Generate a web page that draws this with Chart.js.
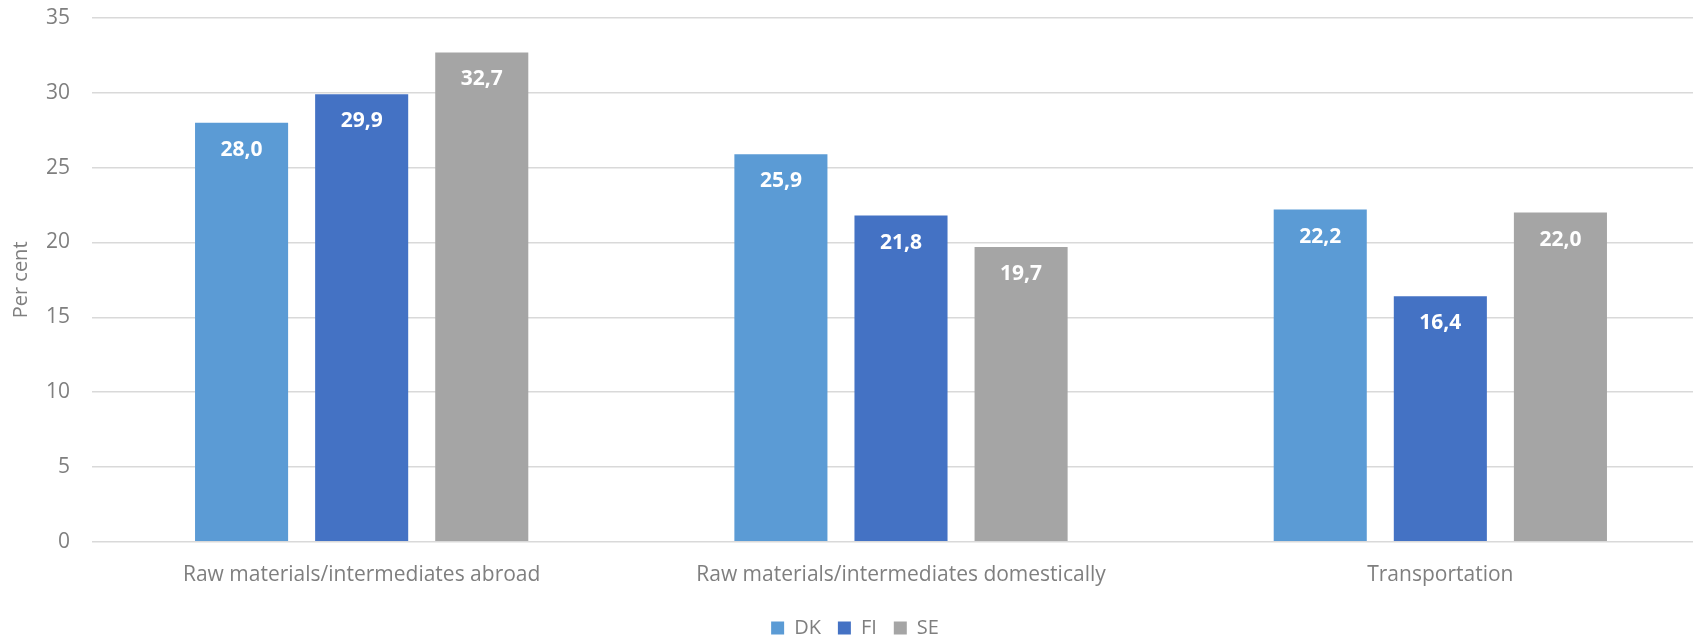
<html>
<script src="https://cdn.jsdelivr.net/npm/chart.js@4.4.0/dist/chart.umd.min.js"></script>

<style>
  body {
    margin: 0;
    overflow: hidden;
    background: white;
  }
  #costChart {
    position: absolute;
    left: 0;
    top: 0;
  }
</style>

<body>
  <canvas id="costChart" width="1712" height="639"></canvas>
</body>

<script>
  // categories and the three country series (per cent)
  var categories = [
    "Raw materials/intermediates abroad",
    "Raw materials/intermediates domestically",
    "Transportation"
  ];
  var seriesNames = ["DK", "FI", "SE"];
  var dkValues = [28.0, 25.9, 22.2];
  var fiValues = [29.9, 21.8, 16.4];
  var seValues = [32.7, 19.7, 22.0];
  var yTicks = [0, 5, 10, 15, 20, 25, 30, 35];

  var textGray = "#7f7f7f";
  var fontName = "'Open Sans', sans-serif";

  // white value labels just inside the top of every bar, with a decimal comma
  var barLabels = {
    id: "barLabels",
    afterDatasetsDraw: function(chart) {
      var ctx = chart.ctx;
      ctx.save();
      ctx.fillStyle = "white";
      ctx.font = "bold 21px " + fontName;
      ctx.textAlign = "center";
      ctx.textBaseline = "middle";
      chart.data.datasets.forEach(function(ds, i) {
        chart.getDatasetMeta(i).data.forEach(function(bar, j) {
          var txt = ds.data[j].toFixed(1).replace(".", ",");
          ctx.fillText(txt, bar.x, bar.y + 27);
        });
      });
      ctx.restore();
    }
  };

  var chartCtx = document.getElementById("costChart");

  var costChart = new Chart(chartCtx, {
    type: "bar",
    data: {
      labels: categories,
      datasets: [
        { label: seriesNames[0], data: dkValues, backgroundColor: "#5b9bd5" },
        { label: seriesNames[1], data: fiValues, backgroundColor: "#4472c4" },
        { label: seriesNames[2], data: seValues, backgroundColor: "#a5a5a5" }
      ]
    },
    options: {
      responsive: false,
      animation: false,
      layout: {
        // negative bottom pushes the legend down close to the edge
        padding: { top: 18, right: 2, bottom: -9, left: 0 }
      },
      datasets: {
        bar: {
          barPercentage: 0.775,
          categoryPercentage: 0.668
        }
      },
      scales: {
        x: {
          grid: { display: false },
          border: { display: false },
          ticks: {
            color: textGray,
            font: { family: fontName, size: 21 },
            padding: 13,
            maxRotation: 0
          }
        },
        y: {
          min: 0,
          max: 35,
          afterBuildTicks: function(scale) {
            scale.ticks = yTicks.map(function(v) { return { value: v }; });
          },
          afterFit: function(scale) {
            scale.width = 92;
            scale.paddingTop = 0;
            scale.paddingBottom = 0;
          },
          grid: { color: "#d9d9d9", lineWidth: 1.5, drawTicks: false },
          border: { display: false },
          ticks: {
            color: textGray,
            font: { family: fontName, size: 21 },
            padding: 22
          },
          title: {
            display: true,
            text: "Per cent",
            color: textGray,
            font: { family: fontName, size: 20 },
            padding: { top: 9, bottom: 0 }
          }
        }
      },
      plugins: {
        tooltip: { enabled: false },
        legend: {
          position: "bottom",
          labels: {
            color: textGray,
            font: { family: fontName, size: 20 },
            boxWidth: 13,
            boxHeight: 13,
            padding: 17
          }
        }
      }
    },
    plugins: [barLabels]
  });
</script>

</html>
